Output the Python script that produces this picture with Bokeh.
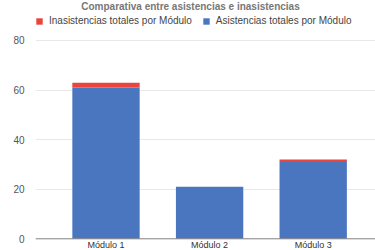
from bokeh.plotting import figure
from bokeh.models import ColumnDataSource, Range1d, FixedTicker, Legend, LegendItem, Span, Label
from bokeh.core.properties import value
from bokeh.embed import file_html
from bokeh.resources import INLINE

title_text = "Comparativa entre asistencias e inasistencias"
modules = ["Módulo 1", "Módulo 2", "Módulo 3"]
positions = [1, 2, 3]
asistencias = [61, 21, 31]
inasistencias = [2, 0, 1]
y_ticks = [0, 20, 40, 60, 80]

src = ColumnDataSource(dict(x=positions, asist=asistencias, inasist=inasistencias, label=modules))

p = figure(width=375, height=250, output_backend="svg", toolbar_location=None,
           x_range=Range1d(0.3195, 3.6014), y_range=Range1d(-4.72, 96.13),
           x_axis_location=None, min_border_left=35, min_border_right=0,
           min_border_top=0, min_border_bottom=0)
p.outline_line_color = None
p.xgrid.grid_line_color = None
p.ygrid.grid_line_color = "#e8e8e8"
p.ygrid.ticker = FixedTicker(ticks=y_ticks)
p.yaxis.ticker = FixedTicker(ticks=y_ticks)
p.yaxis.axis_line_color = None
p.yaxis.major_tick_line_color = None
p.yaxis.minor_tick_line_color = None
p.yaxis.major_label_text_font = "Liberation Sans"
p.yaxis.major_label_text_font_size = "10px"
p.yaxis.major_label_text_color = "#555555"
p.yaxis.major_label_standoff = 5

r = p.vbar_stack(["asist", "inasist"], x="x", width=0.65, source=src,
                 color=["#4a76c0", "#e8453c"], line_color=None)

p.add_layout(Span(location=0, dimension="width", line_color="#888888", line_width=1))

p.text(x="x", y=0, text="label", source=src, text_font=value("Liberation Sans"),
       text_font_size="9px", text_align="center", text_baseline="top",
       y_offset=1, text_color="#333333")

p.add_layout(Label(x=155, y=250, x_units="screen", y_units="screen", text=title_text,
                   text_align="center", text_baseline="top", text_font="Liberation Sans",
                   text_font_size="10px", text_font_style="bold", text_color="#777777"))

legend = Legend(items=[LegendItem(label="Inasistencias totales por Módulo", renderers=[r[1]]),
                       LegendItem(label="Asistencias totales por Módulo", renderers=[r[0]])],
                orientation="horizontal", location=(0, 224), padding=0, margin=0,
                spacing=10, label_standoff=6, glyph_width=8, glyph_height=8,
                label_height=8, border_line_color=None, background_fill_alpha=0,
                label_text_font="Liberation Sans", label_text_font_size="10px",
                label_text_color="#444444")
p.add_layout(legend, "center")

open("out.html", "w").write(file_html(p, INLINE))
